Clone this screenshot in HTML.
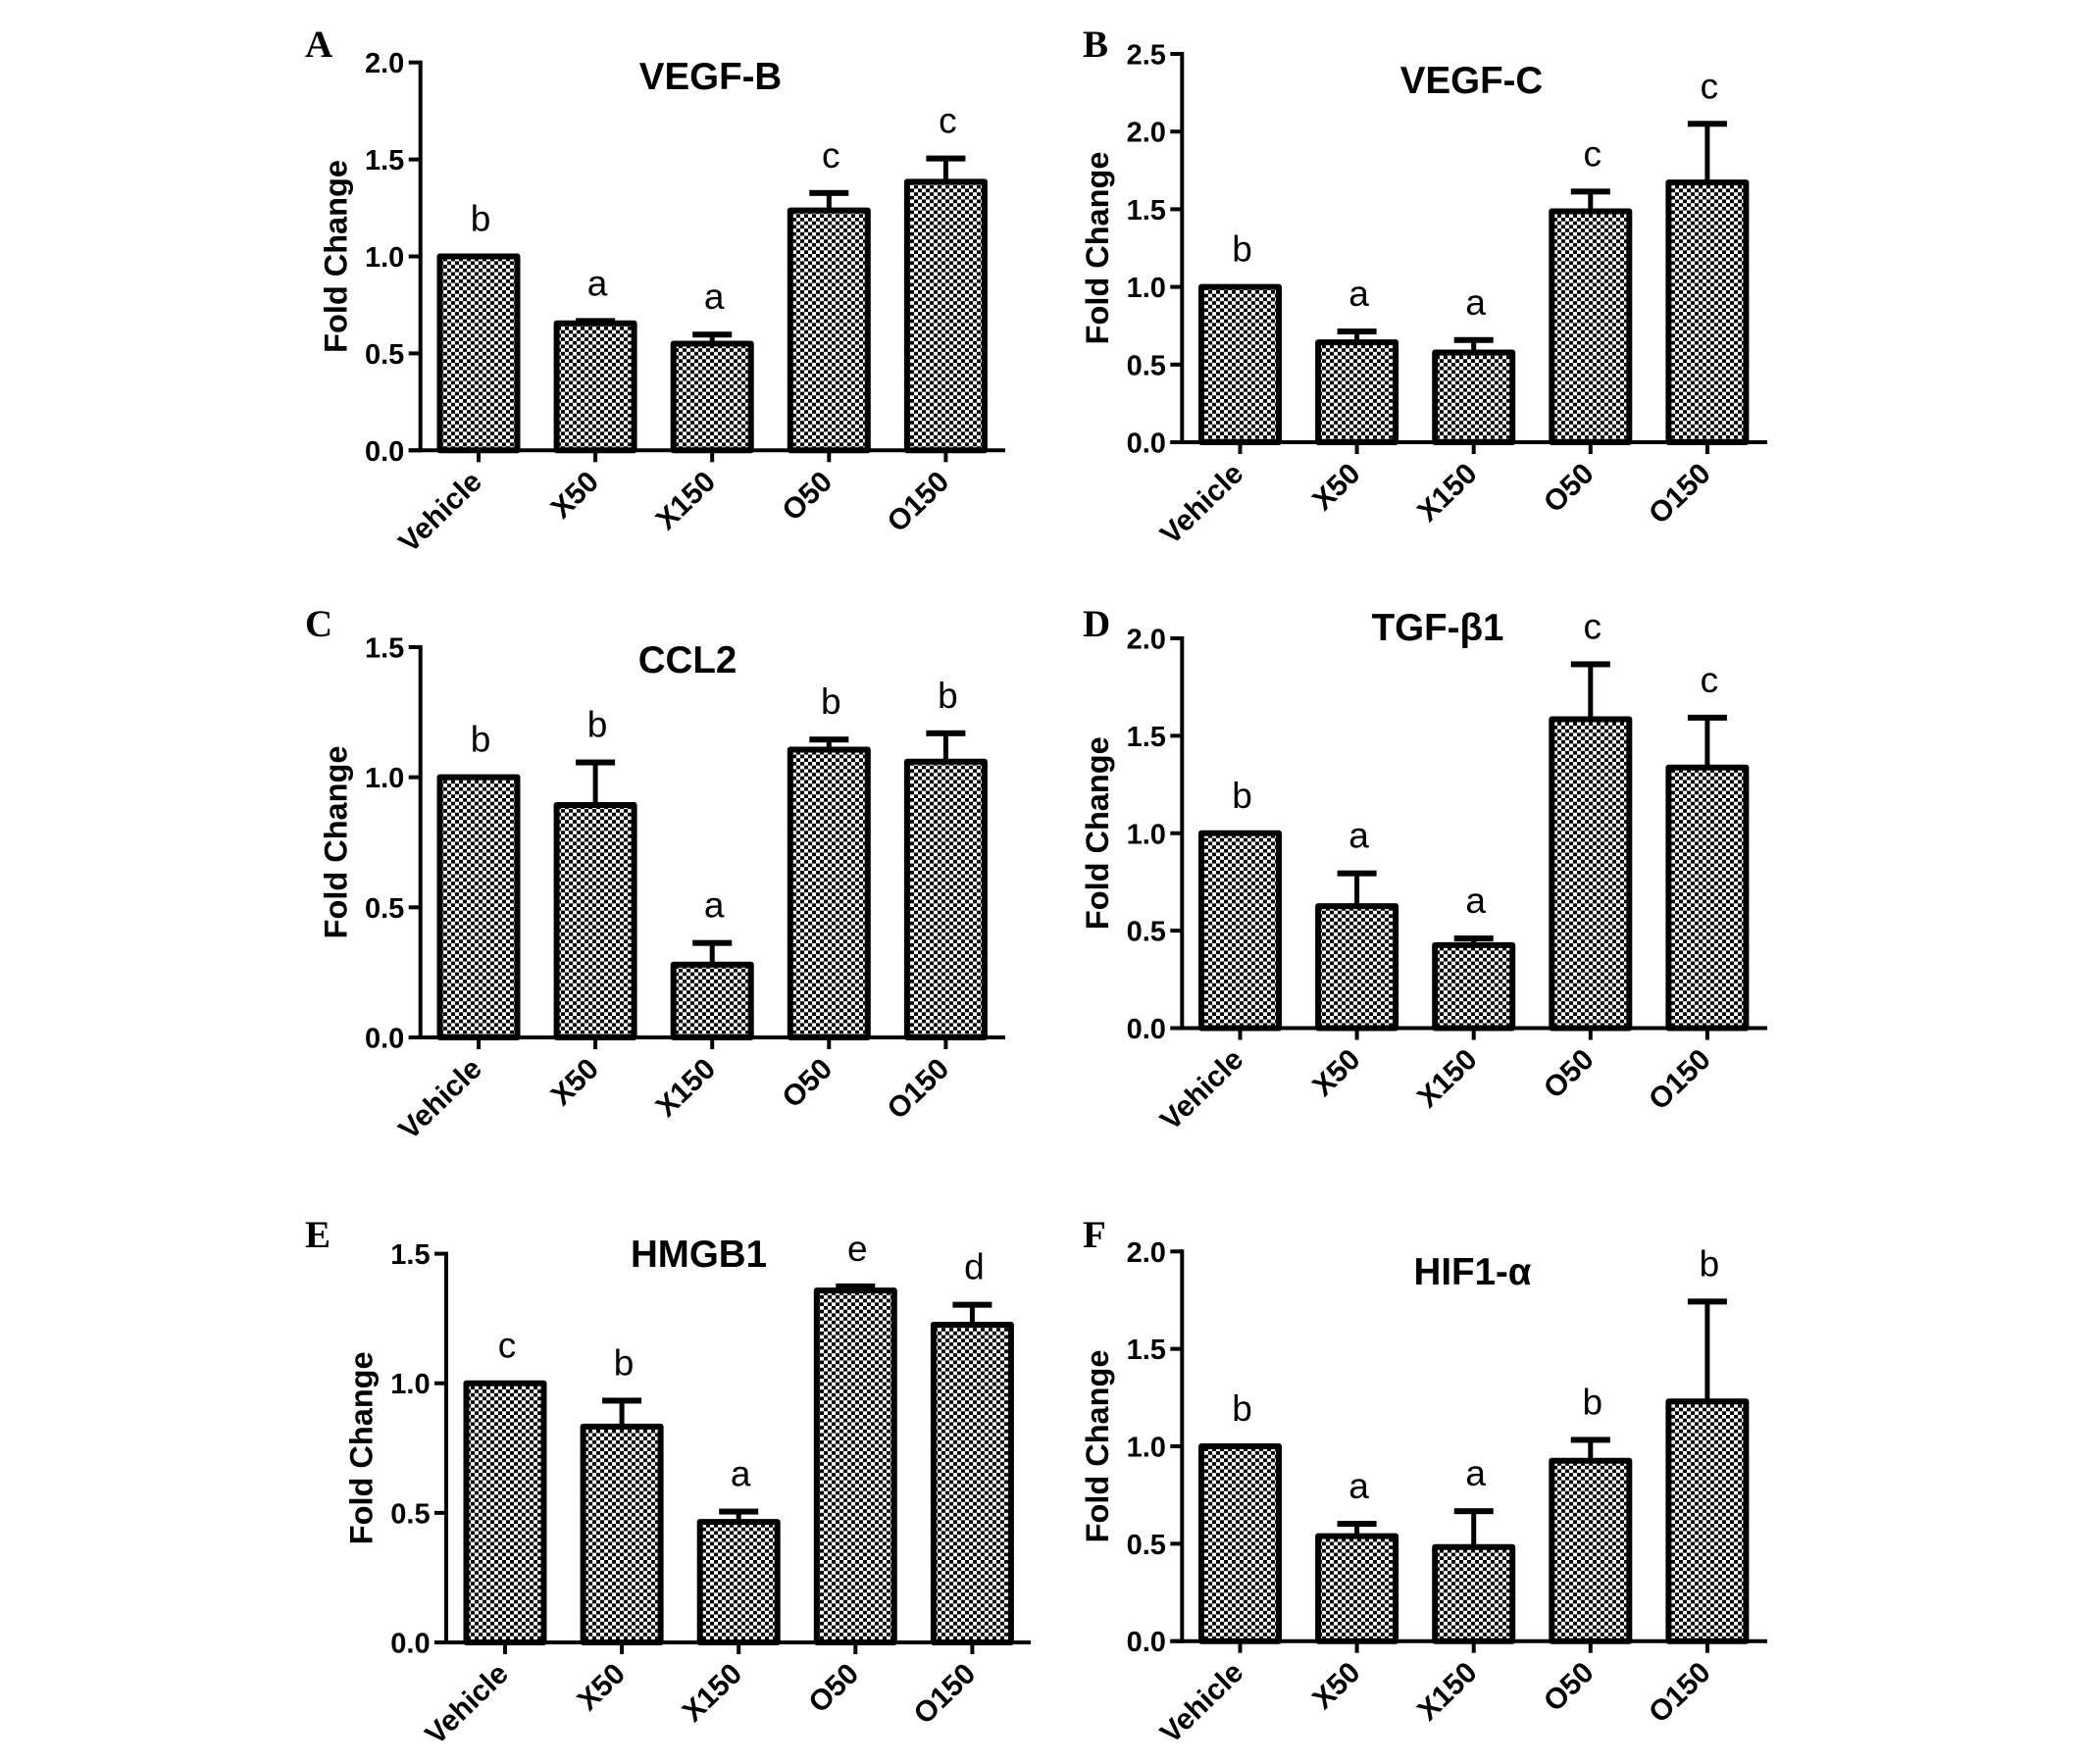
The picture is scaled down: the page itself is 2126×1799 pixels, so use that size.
<!DOCTYPE html>
<html lang="en">
<head>
<meta charset="utf-8">
<title>Fold change bar charts</title>
<style>
html,body{margin:0;padding:0;background:#fff;}
svg{display:block;}
text{font-family:"Liberation Sans",sans-serif;fill:#000;}
.tick{font-weight:bold;font-size:29px;}
.cat{font-weight:bold;font-size:30px;}
.sig{font-size:37px;}
.title{font-weight:bold;font-size:38.5px;}
.ytitle{font-weight:bold;font-size:32.5px;}
.plabel{font-family:"Liberation Serif",serif;font-weight:bold;font-size:39px;}
</style>
</head>
<body>
<svg id="figure" xmlns="http://www.w3.org/2000/svg" width="2126" height="1799" viewBox="0 0 2126 1799">
<defs>
<pattern id="checker" patternUnits="userSpaceOnUse" width="8" height="7.4">
<rect width="8" height="7.4" fill="#fff"/>
<rect width="4" height="3.7" fill="#000"/>
<rect x="4" y="3.7" width="4" height="3.7" fill="#000"/>
</pattern>
</defs>
<rect width="2126" height="1799" fill="#fff"/>
<g>
<text class="plabel" x="311" y="58">A</text>
<text class="plabel" x="1104" y="58">B</text>
<text class="plabel" x="311" y="649">C</text>
<text class="plabel" x="1104" y="649">D</text>
<text class="plabel" x="311" y="1272">E</text>
<text class="plabel" x="1104" y="1272">F</text>
</g>
<g>
<text class="title" x="724.5" y="91" text-anchor="middle">VEGF-B</text>
<text class="title" x="1500.5" y="95" text-anchor="middle">VEGF-C</text>
<text class="title" x="701" y="686" text-anchor="middle">CCL2</text>
<text class="title" x="1466" y="653" text-anchor="middle">TGF-β1</text>
<text class="title" x="712.5" y="1292" text-anchor="middle">HMGB1</text>
<text class="title" x="1501.5" y="1310" text-anchor="middle">HIF1-α</text>
</g>
<g id="charts"></g>
</svg>
<script>
const categories = ['Vehicle', 'X50', 'X150', 'O50', 'O150'];

const ticksA = [0, 0.5, 1, 1.5, 2];
const valuesA = [1, 0.655, 0.55, 1.237, 1.385];
const errorsA = [0, 0.012, 0.047, 0.09, 0.12];
const lettersA = ['b', 'a', 'a', 'c', 'c'];

const ticksB = [0, 0.5, 1, 1.5, 2, 2.5];
const valuesB = [1, 0.643, 0.578, 1.487, 1.672];
const errorsB = [0, 0.07, 0.08, 0.127, 0.378];
const lettersB = ['b', 'a', 'a', 'c', 'c'];

const ticksC = [0, 0.5, 1, 1.5];
const valuesC = [1, 0.893, 0.28, 1.106, 1.06];
const errorsC = [0, 0.164, 0.083, 0.039, 0.109];
const lettersC = ['b', 'b', 'a', 'b', 'b'];

const ticksD = [0, 0.5, 1, 1.5, 2];
const valuesD = [1, 0.626, 0.426, 1.585, 1.337];
const errorsD = [0, 0.168, 0.034, 0.282, 0.256];
const lettersD = ['b', 'a', 'a', 'c', 'c'];

const ticksE = [0, 0.5, 1, 1.5];
const valuesE = [1, 0.833, 0.465, 1.358, 1.226];
const errorsE = [0, 0.1, 0.04, 0.016, 0.077];
const lettersE = ['c', 'b', 'a', 'e', 'd'];

const ticksF = [0, 0.5, 1, 1.5, 2];
const valuesF = [1, 0.539, 0.483, 0.926, 1.23];
const errorsF = [0, 0.063, 0.184, 0.107, 0.513];
const lettersF = ['b', 'a', 'a', 'b', 'b'];

const NS = 'http://www.w3.org/2000/svg';
const root = document.getElementById('charts');

function svgEl(parent, tag, attrs, text) {
  const el = document.createElementNS(NS, tag);
  for (const k in attrs) el.setAttribute(k, attrs[k]);
  if (text !== undefined) el.textContent = text;
  parent.appendChild(el);
  return el;
}

function drawPanel(id, frame, ticks, values, errors, letters) {
  const g = svgEl(root, 'g', {});
  
  

  const maxTick = Math.max.apply(null, ticks);
  const yScale = v => frame.bottom - (v / maxTick) * (frame.bottom - frame.top);
  const xScale = i => frame.firstCenter + i * frame.pitch;

  // y axis title
  const yTitle = svgEl(g, 'text', {
    class: 'ytitle', 'text-anchor': 'middle',
    transform: 'translate(' + (frame.axisX - 75.4) + ',' + ((frame.top + frame.bottom) / 2) + ') rotate(-90)'
  }, 'Fold Change');
  
  

  // error bars below the bars
  values.forEach((v, i) => {
    if (!errors[i]) return;
    const top = yScale(v + errors[i]);
    const cx = xScale(i);
    const err = svgEl(g, 'g', {});
    
    
    svgEl(err, 'line', { x1: cx, x2: cx, y1: yScale(v), y2: top, stroke: '#000', 'stroke-width': 5 });
    svgEl(err, 'rect', { x: cx - 20, y: top - 3, width: 40, height: 6, fill: '#000' });
  });

  // bars
  values.forEach((v, i) => {
    const cx = xScale(i);
    const y = yScale(v);
    const bar = svgEl(g, 'rect', {
      x: cx - 39.5, y: y, width: 79, height: frame.bottom - y,
      fill: 'url(#checker)', stroke: '#000', 'stroke-width': 6, 'stroke-linejoin': 'round'
    });
    
    

    const sig = svgEl(g, 'text', {
      class: 'sig', 'text-anchor': 'middle', x: cx + 2, y: yScale(v + errors[i]) - 26
    }, letters[i]);
    
    
  });

  // y axis
  const yAxis = svgEl(g, 'g', {});
  
  
  svgEl(yAxis, 'line', { x1: frame.axisX, x2: frame.axisX, y1: frame.top - 2, y2: frame.bottom + 2, stroke: '#000', 'stroke-width': 4 });
  ticks.forEach(t => {
    const y = yScale(t);
    svgEl(yAxis, 'line', { x1: frame.axisX - 12, x2: frame.axisX, y1: y, y2: y, stroke: '#000', 'stroke-width': 4 });
    const lab = svgEl(yAxis, 'text', { class: 'tick', 'text-anchor': 'end', x: frame.axisX - 16.4, y: y + 10.5 }, t.toFixed(1));
    
    
  });

  // x axis
  const xAxis = svgEl(g, 'g', {});
  
  
  svgEl(xAxis, 'line', { x1: frame.axisX - 12, x2: frame.axisRight, y1: frame.bottom, y2: frame.bottom, stroke: '#000', 'stroke-width': 4 });
  categories.forEach((c, i) => {
    const cx = xScale(i);
    svgEl(xAxis, 'line', { x1: cx, x2: cx, y1: frame.bottom, y2: frame.bottom + 12, stroke: '#000', 'stroke-width': 4 });
    const lab = svgEl(xAxis, 'text', {
      class: 'cat', 'text-anchor': 'end',
      transform: 'translate(' + (cx + 5) + ',' + (frame.bottom + 34) + ') rotate(-44)'
    }, c);
    
    
  });
}

drawPanel('vegf-b', { axisX: 428.7, axisRight: 1025, top: 63.7, bottom: 459.3, firstCenter: 488, pitch: 119.1 }, ticksA, valuesA, errorsA, lettersA);
drawPanel('vegf-c', { axisX: 1205.3, axisRight: 1802, top: 55, bottom: 451, firstCenter: 1264.5, pitch: 119.1 }, ticksB, valuesB, errorsB, lettersB);
drawPanel('ccl2', { axisX: 428.7, axisRight: 1025, top: 660, bottom: 1058, firstCenter: 488, pitch: 119.1 }, ticksC, valuesC, errorsC, lettersC);
drawPanel('tgf-b1', { axisX: 1205.3, axisRight: 1802, top: 651, bottom: 1048.5, firstCenter: 1264.5, pitch: 119.1 }, ticksD, valuesD, errorsD, lettersD);
drawPanel('hmgb1', { axisX: 455, axisRight: 1051, top: 1278.6, bottom: 1675, firstCenter: 515, pitch: 119.1 }, ticksE, valuesE, errorsE, lettersE);
drawPanel('hif1-a', { axisX: 1205.3, axisRight: 1802, top: 1276.3, bottom: 1673.7, firstCenter: 1264.5, pitch: 119.1 }, ticksF, valuesF, errorsF, lettersF);
</script>
</body>
</html>
